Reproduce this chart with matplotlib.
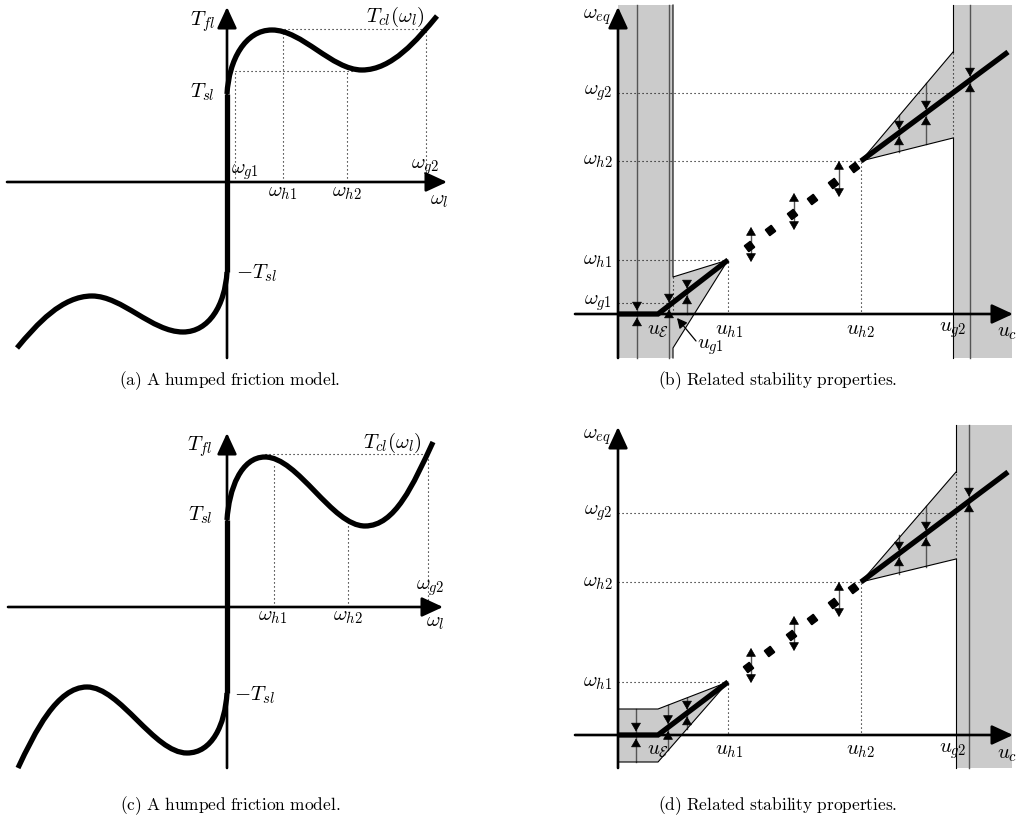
import matplotlib.pyplot as plt
from matplotlib.path import Path
from matplotlib.patches import PathPatch, Polygon

plt.rcParams['mathtext.fontset'] = 'cm'
plt.rcParams['font.family'] = 'serif'

W_PX, H_PX = 1018, 819
SCALE = 10.0          # pixels per diagram unit
FILL = '#cbcbcb'
FLOW = '#555555'

# ---------------- (a) humped friction model ----------------
# cubic Bezier control points (omega_l, T_fl) of T_cl, positive / negative branch
a_pos = [(0.0, 8.8), (0.2, 12.2), (1.8, 15.2), (4.5, 15.2),
         (7.5, 15.2), (10.5, 11.2), (13.5, 11.2),
         (16.5, 11.2), (19.0, 14.2), (21.0, 16.6)]
a_neg = [(0.0, -9.0), (-0.2, -12.3), (-1.8, -15.0), (-4.4, -15.0),
         (-7.5, -15.0), (-10.5, -11.4), (-13.5, -11.4),
         (-16.5, -11.4), (-19.0, -14.2), (-21.0, -16.6)]
a_peak, a_valley = 15.3, 11.1
a_wg1, a_wh1, a_wh2, a_wg2 = 0.8, 5.6, 12.0, 19.9
a_wh1_top = 15.0

# ---------------- (c) humped friction model ----------------
c_pos = [(0.0, 8.7), (0.2, 11.8), (1.4, 15.0), (3.8, 15.0),
         (7.1, 15.0), (10.5, 8.1), (13.8, 8.1),
         (16.8, 8.1), (18.6, 12.2), (20.6, 16.5)]
c_neg = [(0.0, -8.6), (-0.2, -11.8), (-1.5, -14.6), (-4.0, -14.6),
         (-7.3, -14.6), (-10.7, -8.0), (-14.0, -8.0),
         (-17.0, -8.0), (-19.2, -12.5), (-20.9, -16.1)]
c_peak = 15.3
c_wh1, c_wh2, c_wg2 = 4.7, 12.1, 20.1
c_wh1_top, c_wh2_top = 14.2, 8.4

# ---------------- (b) stability properties ----------------
b_low_u, b_low_w = [0.0, 4.0, 11.0], [0.0, 0.0, 5.4]
b_high_u, b_high_w = [24.3, 39.0], [15.3, 26.2]
b_unst_u = [13.1, 15.2, 17.4, 19.4, 21.5, 23.6]
b_unst_w = [6.8, 8.4, 10.0, 11.5, 13.1, 14.7]
b_left_region = [(0.0, -4.4), (0.0, 30.9), (5.5, 30.9), (5.5, 3.7),
                 (11.0, 5.4), (5.5, -3.4), (5.5, -4.4)]
b_right_region = [(24.3, 15.3), (33.5, 26.2), (33.5, 30.9), (39.4, 30.9),
                  (39.4, -4.4), (33.5, -4.4), (33.5, 17.6)]
# converging flow lines: u, top, bottom, equilibrium met
b_flows = [(1.9, 30.9, -4.4, 0.0), (5.1, 30.9, -4.4, 0.8), (6.9, 3.2, 0.0, 2.2),
           (28.1, 19.9, 16.2, 18.1), (30.8, 23.1, 17.0, 20.1), (35.2, 30.9, -4.4, 23.4)]
# diverging arrows around unstable equilibria: u, low, high
b_diverge = [(13.3, 5.2, 8.7), (17.6, 8.4, 12.1), (22.1, 11.7, 15.3)]
b_wg1, b_wh1, b_wh2, b_wg2 = 1.1, 5.4, 15.3, 22.1
b_ug1, b_uh1, b_uh2, b_ug2 = 5.5, 11.0, 24.3, 33.5

# ---------------- (d) stability properties ----------------
d_low_u, d_low_w = [0.0, 4.0, 11.0], [0.0, 0.0, 5.3]
d_high_u, d_high_w = [24.3, 39.0], [15.3, 26.3]
d_unst_u = [13.0, 15.1, 17.3, 19.4, 21.5, 23.5]
d_unst_w = [6.8, 8.4, 10.0, 11.6, 13.2, 14.7]
d_left_region = [(0.0, 2.6), (4.0, 2.6), (11.0, 5.3), (4.0, -2.7), (0.0, -2.7)]
d_right_region = [(24.3, 15.3), (33.8, 26.3), (33.8, 31.0), (39.4, 31.0),
                  (39.4, -3.3), (33.8, -3.3), (33.8, 17.6)]
d_flows = [(1.8, 2.6, -2.7, 0.0), (5.0, 3.0, -1.5, 0.75), (6.9, 3.7, 0.6, 2.2),
           (28.1, 20.0, 16.1, 18.1), (30.8, 22.9, 16.8, 20.1), (35.1, 31.0, -3.3, 23.5)]
d_diverge = [(13.3, 5.2, 8.7), (17.6, 8.4, 11.9), (22.1, 11.8, 15.3)]
d_wh1, d_wh2, d_wg2 = 5.3, 15.3, 22.2
d_uh1, d_uh2, d_ug2 = 11.0, 24.3, 33.8

captions = ['(a) A humped friction model.', '(b) Related stability properties.',
            '(c) A humped friction model.', '(d) Related stability properties.']

fig = plt.figure(figsize=(W_PX / 100, H_PX / 100), dpi=100)


def panel(box, origin):
    left, top, w, h = box
    x0, y0 = origin
    ax = fig.add_axes([left / W_PX, 1 - (top + h) / H_PX, w / W_PX, h / H_PX])
    ax.set_xlim((left - x0) / SCALE, (left + w - x0) / SCALE)
    ax.set_ylim((y0 - top - h) / SCALE, (y0 - top) / SCALE)
    ax.axis('off')
    return ax


def axis_arrow(ax, start, end):
    ax.annotate('', xy=end, xytext=start, annotation_clip=False,
                arrowprops=dict(arrowstyle='-|>,head_length=1.3,head_width=0.6',
                                lw=1.9, color='k', shrinkA=0, shrinkB=0))


def dotted(ax, xs, ys):
    ax.plot(xs, ys, color='k', lw=0.8, ls=(0, (1, 2.6)))


def head(ax, u, tip, sign):
    # small black arrow head, sign=-1 points down, +1 points up
    ax.annotate('', xy=(u, tip), xytext=(u, tip - sign * 0.6),
                arrowprops=dict(arrowstyle='-|>,head_length=0.55,head_width=0.32',
                                lw=0.5, color='k', shrinkA=0, shrinkB=0))


def bezier(ax, pts):
    codes = [Path.MOVETO] + [Path.CURVE4] * (len(pts) - 1)
    ax.add_patch(PathPatch(Path(pts, codes), fc='none', ec='k', lw=3.8,
                           capstyle='butt'))


def friction(ax, pos, neg, xr, yr):
    axis_arrow(ax, (xr[0], 0), (xr[1], 0))
    axis_arrow(ax, (0, yr[0]), (0, yr[1]))
    bezier(ax, pos)
    bezier(ax, neg)
    ax.plot([0, 0], [neg[0][1], pos[0][1]], color='k', lw=3.8, solid_capstyle='butt')


def stability(ax, low, high, unst, regions, flows, diverge, xr, yr):
    for reg in regions:
        ax.add_patch(Polygon(reg, closed=True, fc=FILL, ec='none'))
    for u, top, bottom, meet in flows:
        ax.plot([u, u], [bottom, top], color=FLOW, lw=1.0)
        head(ax, u, meet + 0.35, -1)
        head(ax, u, meet - 0.35, 1)
    for u, lo, hi in diverge:
        ax.plot([u, u], [lo + 0.3, hi - 0.3], color=FLOW, lw=1.0)
        head(ax, u, hi, 1)
        head(ax, u, lo, -1)
    axis_arrow(ax, (xr[0], 0), (xr[1], 0))
    axis_arrow(ax, (0, yr[0]), (0, yr[1]))
    ax.plot(*low, color='k', lw=3.8, solid_capstyle='butt', solid_joinstyle='miter')
    ax.plot(*high, color='k', lw=3.8, solid_capstyle='butt')
    ax.plot(*unst, ls='none', marker=(4, 0, -8), ms=7.5, color='k')


M = dict(fontsize=15, ha='center', va='center')

# ---- (a)
ax = panel((0, 0, 470, 365), (227, 182))
friction(ax, a_pos, a_neg, (-22.0, 22.0), (-17.6, 17.5))
dotted(ax, [a_pos[3][0], a_wg2, a_wg2], [a_peak, a_peak, 0])
dotted(ax, [a_wg1, a_wg1], [0, a_valley])
dotted(ax, [a_wg1, 13.6], [a_valley, a_valley])
dotted(ax, [a_wh1, a_wh1], [0, a_wh1_top])
dotted(ax, [a_wh2, a_wh2], [0, a_valley])
ax.text(-2.4, 16.0, r'$T_{fl}$', **M)
ax.text(-2.5, 9.0, r'$T_{sl}$', **M)
ax.text(2.9, -9.1, r'$-T_{sl}$', **M)
ax.text(1.8, 1.0, r'$\omega_{g1}$', **M)
ax.text(5.6, -1.1, r'$\omega_{h1}$', **M)
ax.text(12.0, -1.1, r'$\omega_{h2}$', **M)
ax.text(19.8, 1.5, r'$\omega_{g2}$', **M)
ax.text(21.2, -1.9, r'$\omega_l$', **M)
ax.text(16.8, 16.5, r'$T_{cl}(\omega_l)$', **M)

# ---- (c)
ax = panel((0, 410, 470, 365), (227, 607))
friction(ax, c_pos, c_neg, (-21.9, 21.6), (-16.1, 17.4))
dotted(ax, [c_pos[3][0], c_wg2, c_wg2], [c_peak, c_peak, 0])
dotted(ax, [c_wh1, c_wh1], [0, c_wh1_top])
dotted(ax, [c_wh2, c_wh2], [0, c_wh2_top])
ax.text(-2.7, 16.0, r'$T_{fl}$', **M)
ax.text(-2.7, 9.2, r'$T_{sl}$', **M)
ax.text(2.7, -8.8, r'$-T_{sl}$', **M)
ax.text(4.6, -1.0, r'$\omega_{h1}$', **M)
ax.text(12.1, -1.0, r'$\omega_{h2}$', **M)
ax.text(20.3, 1.9, r'$\omega_{g2}$', **M)
ax.text(20.8, -1.6, r'$\omega_l$', **M)
ax.text(16.5, 16.4, r'$T_{cl}(\omega_l)$', **M)

# ---- (b)
ax = panel((540, 0, 478, 365), (618, 314))
dotted(ax, [0, b_ug1 - 0.4], [b_wg1, b_wg1])
dotted(ax, [0, b_uh1, b_uh1], [b_wh1, b_wh1, 0])
dotted(ax, [0, b_uh2, b_uh2], [b_wh2, b_wh2, 0])
dotted(ax, [0, b_ug2], [b_wg2, b_wg2])
dotted(ax, [b_ug1, b_ug1], [0, 3.7])
dotted(ax, [b_ug2, b_ug2], [17.6, 26.2])
stability(ax, (b_low_u, b_low_w), (b_high_u, b_high_w), (b_unst_u, b_unst_w),
          [b_left_region, b_right_region], b_flows, b_diverge,
          (-4.3, 39.5), (-4.4, 30.7))
ax.plot([b_ug1, b_ug1, b_uh1, b_ug1, b_ug1], [30.9, 3.7, b_wh1, -3.4, -4.4], color='k', lw=0.8)
ax.plot([b_ug2, b_ug2], [26.2, 30.9], color='k', lw=0.8)
ax.plot([b_ug2, b_ug2], [-4.4, 17.6], color='k', lw=0.8)
ax.plot([b_ug2, b_uh2, b_ug2], [26.2, b_wh2, 17.6], color='k', lw=0.8)
ax.annotate('', xy=(5.9, -0.4), xytext=(7.8, -2.7),
            arrowprops=dict(arrowstyle='-|>,head_length=0.6,head_width=0.3',
                            lw=0.9, color='k', shrinkA=0, shrinkB=0))
ax.text(-2.1, 29.7, r'$\omega_{eq}$', **M)
ax.text(-2.0, b_wg2, r'$\omega_{g2}$', **M)
ax.text(-2.0, b_wh2, r'$\omega_{h2}$', **M)
ax.text(-2.0, b_wh1, r'$\omega_{h1}$', **M)
ax.text(-2.0, b_wg1, r'$\omega_{g1}$', **M)
ax.text(4.0, -1.6, r'$u_{\mathcal{E}}$', **M)
ax.text(11.1, -1.6, r'$u_{h1}$', **M)
ax.text(9.2, -3.3, r'$u_{g1}$', **M)
ax.text(24.2, -1.6, r'$u_{h2}$', **M)
ax.text(33.5, -1.6, r'$u_{g2}$', **M)
ax.text(38.9, -1.9, r'$u_c$', **M)

# ---- (d)
ax = panel((540, 410, 478, 365), (618, 735))
dotted(ax, [0, d_uh1, d_uh1], [d_wh1, d_wh1, 0])
dotted(ax, [0, d_uh2, d_uh2], [d_wh2, d_wh2, 0])
dotted(ax, [0, d_ug2], [d_wg2, d_wg2])
dotted(ax, [d_ug2, d_ug2], [17.6, 26.3])
stability(ax, (d_low_u, d_low_w), (d_high_u, d_high_w), (d_unst_u, d_unst_w),
          [d_left_region, d_right_region], d_flows, d_diverge,
          (-4.3, 39.5), (-3.3, 30.8))
xs, ys = zip(*d_left_region)
ax.plot(xs, ys, color='k', lw=0.8)
ax.plot([d_ug2, d_ug2], [26.3, 31.0], color='k', lw=0.8)
ax.plot([d_ug2, d_ug2], [-3.3, 17.6], color='k', lw=0.8)
ax.plot([d_ug2, d_uh2, d_ug2], [26.3, d_wh2, 17.6], color='k', lw=0.8)
ax.text(-2.1, 29.8, r'$\omega_{eq}$', **M)
ax.text(-2.0, d_wg2, r'$\omega_{g2}$', **M)
ax.text(-2.0, d_wh2, r'$\omega_{h2}$', **M)
ax.text(-2.0, d_wh1, r'$\omega_{h1}$', **M)
ax.text(4.0, -1.5, r'$u_{\mathcal{E}}$', **M)
ax.text(11.1, -1.6, r'$u_{h1}$', **M)
ax.text(24.2, -1.6, r'$u_{h2}$', **M)
ax.text(33.5, -1.6, r'$u_{g2}$', **M)
ax.text(38.9, -2.0, r'$u_c$', **M)

# captions under each sub-figure
for (cx, cy), cap in zip([(230, 381), (778, 381), (230, 806), (778, 806)], captions):
    fig.text(cx / W_PX, 1 - cy / H_PX, r'$\mathrm{' + cap.replace(' ', r'\ ') + '}$',
             fontsize=12.5, ha='center', va='center')

fig.savefig('out.png', dpi=100)
